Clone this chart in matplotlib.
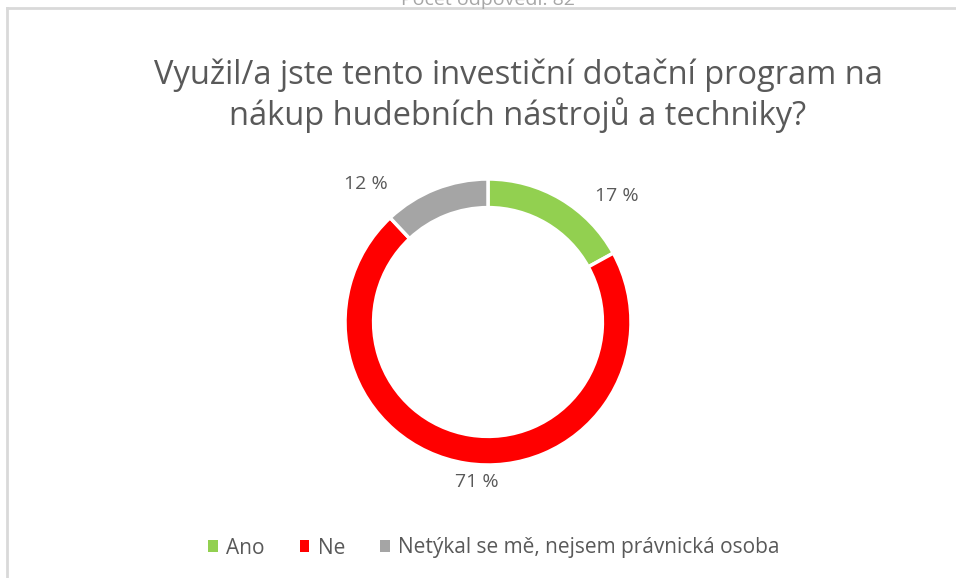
import matplotlib.pyplot as plt
from matplotlib.lines import Line2D
from matplotlib.patches import Patch
import numpy as np

# Data
categories = ["Ano", "Ne", "Netýkal se mě, nejsem právnická osoba"]
shares = [17, 71, 12]
colors = ["#92D050", "#FF0000", "#A5A5A5"]
title = "Využil/a jste tento investiční dotační program na\nnákup hudebních nástrojů a techniky?"
header = "Počet odpovědí: 82"

# label placement tweaks (degrees added to wedge mid-angle, radial distance)
label_shift = [-15, 5, 20]
label_dist = [1.26, 1.12, 1.29]

text_color = "#595959"
plt.rcParams["font.family"] = ["Open Sans", "DejaVu Sans"]

fig = plt.figure(figsize=(9.56, 5.78), dpi=100)

# chart frame and the header text, cut by the top edge as in the source
fig.add_artist(Line2D([7 / 956, 1], [1 - 8 / 578] * 2, color="#D9D9D9", lw=2))
fig.add_artist(Line2D([7 / 956] * 2, [0, 1 - 8 / 578], color="#D9D9D9", lw=2))
fig.text(488 / 956, 1 - 5 / 578, header, ha="center", va="baseline",
         fontsize=14, color="#A6A6A6")

fig.text(518 / 956, 1 - 96 / 578, title, ha="center", va="center",
         fontsize=23.5, color=text_color, linespacing=1.2)

# donut
cx, cy, r = 488, 322, 143
half = 150
ax = fig.add_axes([(cx - half) / 956, (578 - cy - half) / 578, 2 * half / 956, 2 * half / 578])
wedges, _ = ax.pie(shares, colors=colors, startangle=90, counterclock=False,
                   radius=1.0, wedgeprops=dict(width=0.2, edgecolor="white", linewidth=2.5))
lim = half / r
ax.set_xlim(-lim, lim)
ax.set_ylim(-lim, lim)
ax.set_aspect("equal")
ax.axis("off")

for w, val, sh, d in zip(wedges, shares, label_shift, label_dist):
    ang = np.deg2rad((w.theta1 + w.theta2) / 2 + sh)
    ax.text(d * np.cos(ang), d * np.sin(ang), f"{val} %", ha="center", va="center",
            fontsize=14, color=text_color, clip_on=False)

handles = [Patch(facecolor=c, edgecolor="none") for c in colors]
fig.legend(handles, categories, loc="center", bbox_to_anchor=(494 / 956, 1 - 548 / 578),
           ncol=3, frameon=False, fontsize=15, labelcolor=text_color,
           handlelength=0.45, handleheight=0.45, handletextpad=0.4, columnspacing=1.7)

fig.savefig("out.png", dpi=100)
